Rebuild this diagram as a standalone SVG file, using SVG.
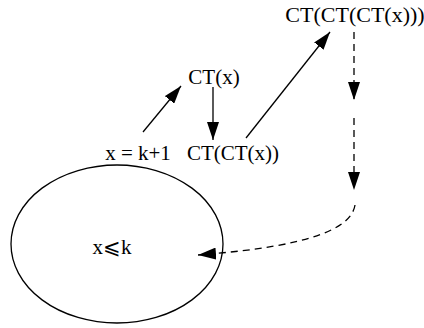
<svg xmlns="http://www.w3.org/2000/svg" width="424" height="328" viewBox="0 0 424 328">
<style>
text { font-family: "Liberation Serif", "DejaVu Serif", serif; font-size: 21px; fill: #000; text-anchor: middle; }
.e { fill: none; stroke: #000; stroke-width: 1.3; }
.d { stroke-dasharray: 7 5; }
</style>
<defs>
<marker id="ahl" viewBox="0 0 18 12" refX="18" refY="6" markerWidth="18" markerHeight="12" markerUnits="userSpaceOnUse" orient="auto">
<path d="M0,0 L18,6 L0,12 z" fill="#000"/>
</marker>
</defs>
<g id="n-set">
<ellipse cx="117" cy="244" rx="106" ry="79" fill="none" stroke="#000" stroke-width="1.3"/>
<text x="112" y="254">x⩽k</text>
</g>
<g id="n-k1"><text x="138" y="160">x = k+1</text></g>
<g id="n-ct"><text x="214" y="84">CT(x)</text></g>
<g id="n-ct2"><text x="233" y="160">CT(CT(x))</text></g>
<g id="n-ct3"><text x="355" y="22" style="font-size:22px">CT(CT(CT(x)))</text></g>
<g id="connectors">
<path class="e" d="M143,132 L181,86" marker-end="url(#ahl)"/>
<path class="e" d="M213,87 L213,140" marker-end="url(#ahl)"/>
<path class="e" d="M246,138 L330,32" marker-end="url(#ahl)"/>
<path class="e d" d="M354,32 L354,100" marker-end="url(#ahl)"/>
<path class="e d" d="M354,118 L354,190" marker-end="url(#ahl)"/>
<path class="e d" d="M355,205 C350,240 260,250 198,255" marker-end="url(#ahl)"/>
</g>
</svg>
